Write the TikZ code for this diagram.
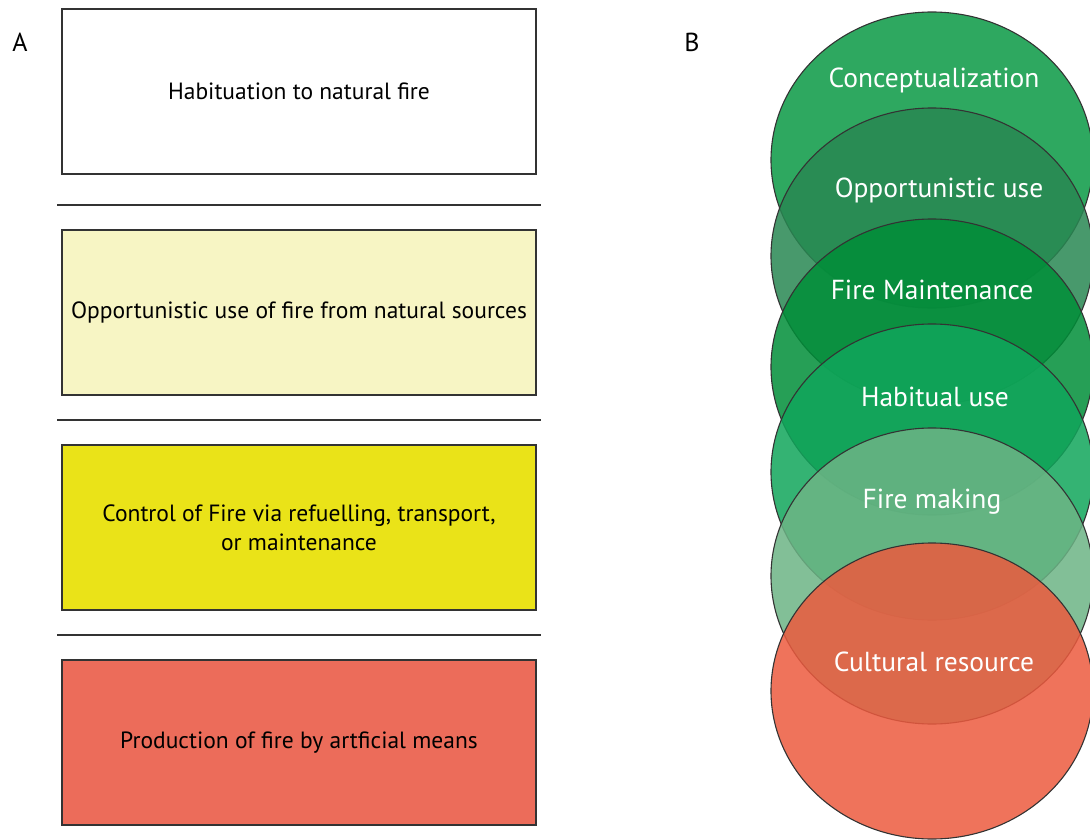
\documentclass[tikz,border=0pt]{standalone}
\usepackage{fontspec}
\setmainfont{PT Sans}
\usetikzlibrary{shapes.geometric}
\definecolor{lineg}{RGB}{51,51,51}
\definecolor{paleyel}{RGB}{247,245,196}
\definecolor{yel}{RGB}{234,227,24}
\definecolor{salmon}{RGB}{236,108,90}
\definecolor{cA}{RGB}{9,153,68}
\definecolor{cB}{RGB}{40,135,82}
\definecolor{cC}{RGB}{0,142,56}
\definecolor{cD}{RGB}{16,166,91}
\definecolor{cE}{RGB}{108,180,133}
\definecolor{cF}{RGB}{236,90,62}
\tikzset{
  stage/.style={draw=lineg, line width=1.3pt, minimum width=474pt, minimum height=165pt, inner sep=0pt, align=center, font=\fontsize{23.5}{29}\selectfont},
  sep/.style={draw=lineg, line width=1.3pt},
  disc/.style={ellipse, draw=lineg, line width=1.1pt, fill opacity=0.85, minimum width=322pt, minimum height=296pt, inner sep=0pt},
  disclabel/.style={text=white, font=\fontsize{27.5}{32}\selectfont, inner sep=0pt},
  panel/.style={font=\fontsize{26}{30}\selectfont, inner sep=0pt}
}
\begin{document}
\begin{tikzpicture}[x=1pt,y=-1pt]
\useasboundingbox (0,0) rectangle (1090,840);
% panel A
\node[panel] (labA) at (20,42) {A};
\node[stage, fill=white] (s1) at (299,91.5) {Habituation to natural fire};
\node[stage, fill=paleyel] (s2) at (299,312.5) {Opportunistic use of fire from natural sources};
\node[stage, fill=yel] (s3) at (299,527.5) {Control of Fire via refuelling, transport,\\or maintenance};
\node[stage, fill=salmon] (s4) at (299,742.5) {Production of fire by artficial means};
\coordinate (l1a) at (57,205); \coordinate (l1b) at (541,205);
\coordinate (l2a) at (57,420); \coordinate (l2b) at (541,420);
\coordinate (l3a) at (57,635); \coordinate (l3b) at (541,635);
\draw[sep] (l1a) -- (l1b);
\draw[sep] (l2a) -- (l2b);
\draw[sep] (l3a) -- (l3b);
% panel B
\node[panel] (labB) at (692,42) {B};
\node[disc, fill=cA] (d1) at (932,160) {};
\node[disc, fill=cB] (d2) at (932,256) {};
\node[disc, fill=cC] (d3) at (932,367) {};
\node[disc, fill=cD] (d4) at (932,472) {};
\node[disc, fill=cE] (d5) at (932,576) {};
\node[disc, fill=cF] (d6) at (932,691) {};
\node[disclabel] (t1) at (934,80) {Conceptualization};
\node[disclabel] (t2) at (939,190) {Opportunistic use};
\node[disclabel] (t3) at (932,290) {Fire Maintenance};
\node[disclabel] (t4) at (935,397) {Habitual use};
\node[disclabel] (t5) at (932,502) {Fire making};
\node[disclabel] (t6) at (934,662) {Cultural resource};
\end{tikzpicture}
\end{document}
